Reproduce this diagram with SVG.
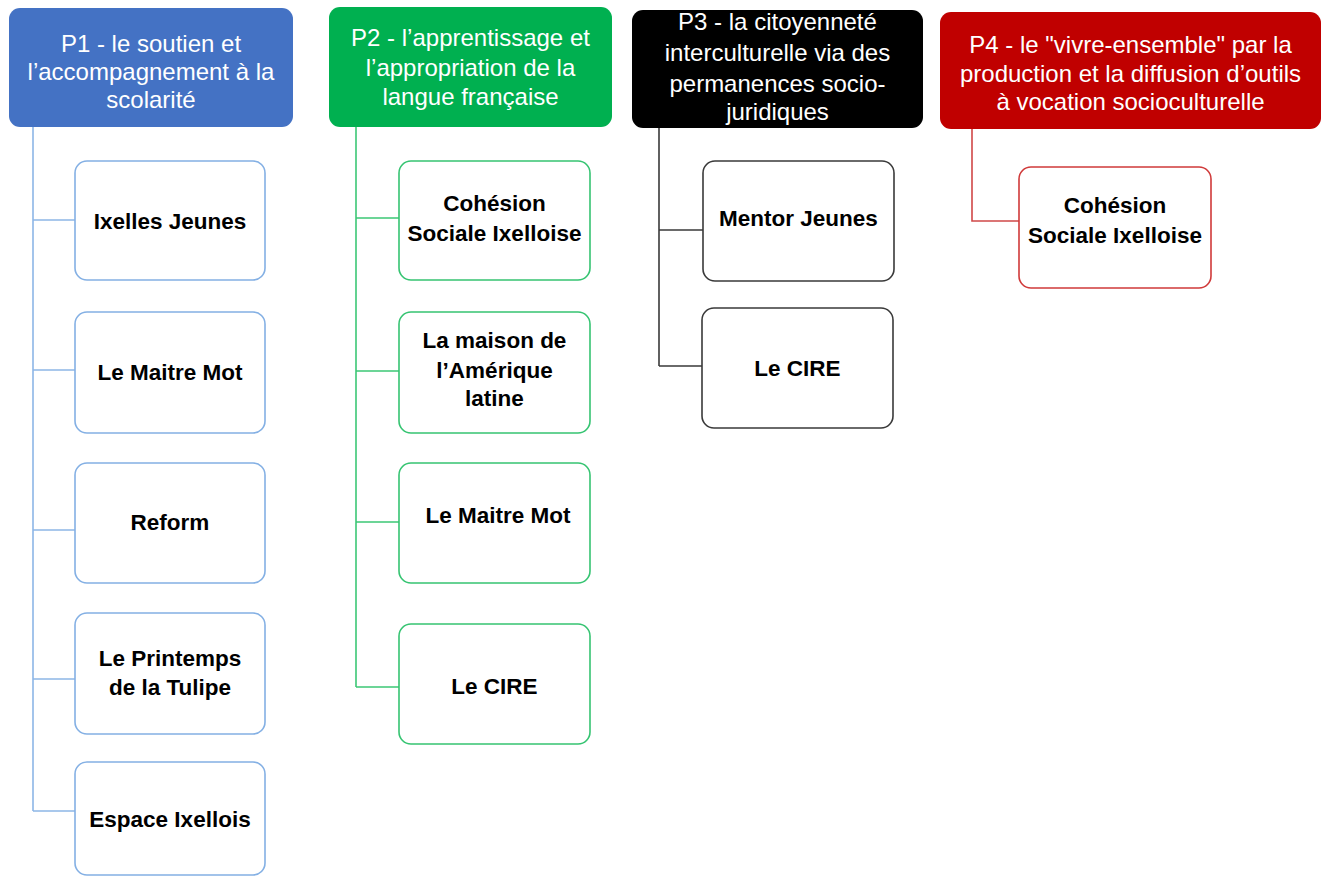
<svg xmlns="http://www.w3.org/2000/svg" width="1330" height="876" viewBox="0 0 1330 876">
<style>
.hd{font-family:"Liberation Sans",Arial,sans-serif;font-size:24px;fill:#fff;text-anchor:middle}
.bx{font-family:"Liberation Sans",Arial,sans-serif;font-size:22.5px;font-weight:bold;fill:#000;text-anchor:middle}
.b1{fill:#fff;stroke:#84B0E4;stroke-width:1.6}
.b2{fill:#fff;stroke:#36C472;stroke-width:1.6}
.b3{fill:#fff;stroke:#3A3A3A;stroke-width:1.6}
.b4{fill:#fff;stroke:#D03A3A;stroke-width:1.6}
.c1{fill:none;stroke:#8DB6E6;stroke-width:1.6}
.c2{fill:none;stroke:#3CC776;stroke-width:1.6}
.c3{fill:none;stroke:#3A3A3A;stroke-width:1.6}
.c4{fill:none;stroke:#D04848;stroke-width:1.6}
</style>
<rect width="1330" height="876" fill="#fff"/>
<g id="connectors">
<path class="c1" d="M33 127V811M33 220H75M33 370H75M33 530H75M33 679H75M33 811H75"/>
<path class="c2" d="M356 127V687M356 218H399M356 371H399M356 522H399M356 687H399"/>
<path class="c3" d="M659 128V366M659 230H703M659 366H703"/>
<path class="c4" d="M972 129V221H1019"/>
</g>
<g id="p1">
<rect x="9" y="8" width="284" height="119" rx="11" fill="#4472C4"/>
<text class="hd" x="151" y="52">P1 - le soutien et</text>
<text class="hd" x="151" y="80">l’accompagnement à la</text>
<text class="hd" x="151" y="108">scolarité</text>
</g>
<g id="p2">
<rect x="329" y="7" width="283" height="120" rx="11" fill="#00B050"/>
<text class="hd" x="470.5" y="46">P2 - l’apprentissage et</text>
<text class="hd" x="470.5" y="76">l’appropriation de la</text>
<text class="hd" x="470.5" y="105">langue française</text>
</g>
<g id="p3">
<rect x="632" y="10" width="291" height="118" rx="11" fill="#000"/>
<text class="hd" x="777.5" y="30">P3 - la citoyenneté</text>
<text class="hd" x="777.5" y="61">interculturelle via des</text>
<text class="hd" x="777.5" y="92">permanences socio-</text>
<text class="hd" x="777.5" y="120">juridiques</text>
</g>
<g id="p4">
<rect x="940" y="12" width="381" height="117" rx="11" fill="#C00000"/>
<text class="hd" x="1130.5" y="53">P4 - le "vivre-ensemble" par la</text>
<text class="hd" x="1130.5" y="82">production et la diffusion d’outils</text>
<text class="hd" x="1130.5" y="110">à vocation socioculturelle</text>
</g>
<g id="p1-ixelles-jeunes">
<rect class="b1" x="75" y="161" width="190" height="119" rx="12"/>
<text class="bx" x="170" y="229">Ixelles Jeunes</text>
</g>
<g id="p1-maitre-mot">
<rect class="b1" x="75" y="312" width="190" height="121" rx="12"/>
<text class="bx" x="170" y="380">Le Maitre Mot</text>
</g>
<g id="p1-reform">
<rect class="b1" x="75" y="463" width="190" height="120" rx="12"/>
<text class="bx" x="170" y="530">Reform</text>
</g>
<g id="p1-printemps">
<rect class="b1" x="75" y="613" width="190" height="121" rx="12"/>
<text class="bx" x="170" y="666">Le Printemps</text>
<text class="bx" x="170" y="695">de la Tulipe</text>
</g>
<g id="p1-espace-ixellois">
<rect class="b1" x="75" y="762" width="190" height="113" rx="12"/>
<text class="bx" x="170" y="827">Espace Ixellois</text>
</g>
<g id="p2-cohesion">
<rect class="b2" x="399" y="161" width="191" height="119" rx="12"/>
<text class="bx" x="494.5" y="211">Cohésion</text>
<text class="bx" x="494.5" y="241">Sociale Ixelloise</text>
</g>
<g id="p2-maison-amerique">
<rect class="b2" x="399" y="312" width="191" height="121" rx="12"/>
<text class="bx" x="494.5" y="348">La maison de</text>
<text class="bx" x="494.5" y="378">l’Amérique</text>
<text class="bx" x="494.5" y="406">latine</text>
</g>
<g id="p2-maitre-mot">
<rect class="b2" x="399" y="463" width="191" height="120" rx="12"/>
<text class="bx" x="498" y="523">Le Maitre Mot</text>
</g>
<g id="p2-cire">
<rect class="b2" x="399" y="624" width="191" height="120" rx="12"/>
<text class="bx" x="494.5" y="694">Le CIRE</text>
</g>
<g id="p3-mentor-jeunes">
<rect class="b3" x="703" y="161" width="191" height="120" rx="12"/>
<text class="bx" x="798.5" y="226">Mentor Jeunes</text>
</g>
<g id="p3-cire">
<rect class="b3" x="702" y="308" width="191" height="120" rx="12"/>
<text class="bx" x="797.5" y="376">Le CIRE</text>
</g>
<g id="p4-cohesion">
<rect class="b4" x="1019" y="167" width="192" height="121" rx="12"/>
<text class="bx" x="1115" y="213">Cohésion</text>
<text class="bx" x="1115" y="243">Sociale Ixelloise</text>
</g>
</svg>
